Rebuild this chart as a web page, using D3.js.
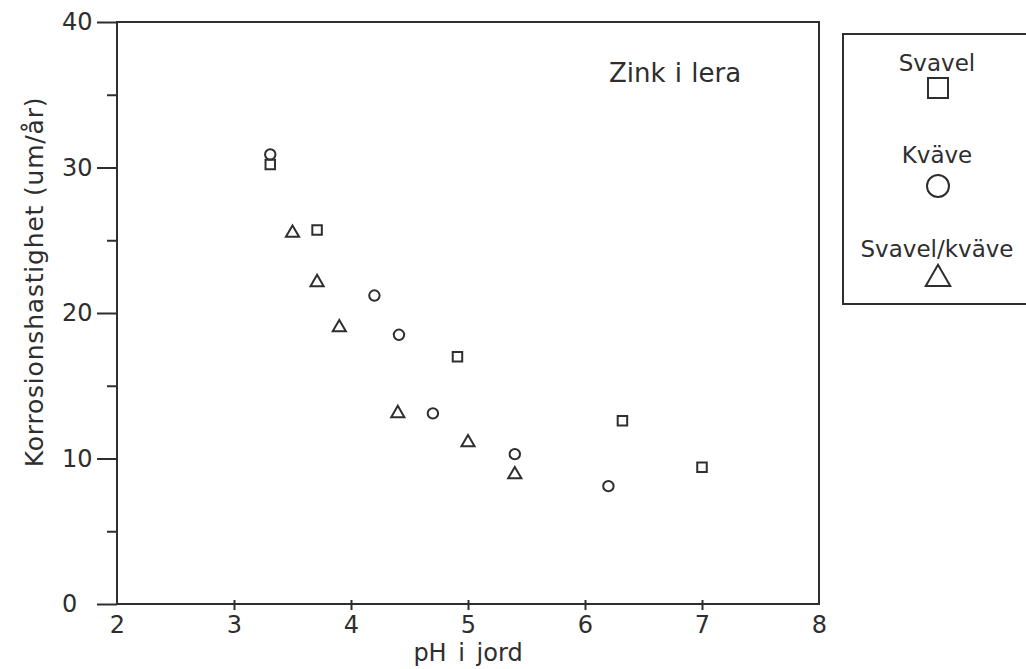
<!DOCTYPE html>
<html>
<head>
<meta charset="utf-8">
<script src="https://cdn.jsdelivr.net/npm/d3@7"></script>
<style>
  html, body { margin: 0; padding: 0; background: #ffffff; }
  svg { display: block; }
  text { font-family: "DejaVu Sans", sans-serif; fill: #2e2e2e; }
</style>
</head>
<body>
<svg id="chart" width="1026" height="669"></svg>
<script>
// Corrosion rate of zinc in clay versus soil pH, three treatments
const svavelPH   = [3.31, 3.71, 4.91, 6.32, 7.0];
const svavelRate = [30.2, 25.7, 17.0, 12.6, 9.4];

const kvavePH   = [3.31, 4.2, 4.41, 4.7, 5.4, 6.2];
const kvaveRate = [30.9, 21.2, 18.5, 13.1, 10.3, 8.1];

const blandPH   = [3.5, 3.71, 3.9, 4.4, 5.0, 5.4];
const blandRate = [25.5, 22.1, 19.0, 13.1, 11.1, 8.9];

const xTicks = [2, 3, 4, 5, 6, 7, 8];
const yTicks = [0, 10, 20, 30, 40];
const yMinorTicks = [5, 15, 25, 35];

const seriesNames = ["Svavel", "Kväve", "Svavel/kväve"];

const ink = "#2e2e2e";
const svg = d3.select("#chart");

const x = d3.scaleLinear().domain([2, 8]).range([117, 819]);
const y = d3.scaleLinear().domain([0, 40]).range([604, 22]);

// plot frame
svg.append("rect")
  .attr("x", x(2)).attr("y", y(40))
  .attr("width", x(8) - x(2)).attr("height", y(0) - y(40))
  .attr("fill", "none").attr("stroke", ink).attr("stroke-width", 2);

// y axis: long major ticks with labels (left-aligned in a column), short minor ticks
const yAxis = svg.append("g")
  .attr("transform", `translate(${x(2)},0)`)
  .call(d3.axisLeft(y).tickValues(yTicks).tickSize(20).tickPadding(9).tickFormat(d3.format("d")));
yAxis.select(".domain").remove();
yAxis.selectAll("line").attr("stroke", ink).attr("stroke-width", 2);
yAxis.selectAll("text")
  .attr("font-size", 24).style("fill", ink)
  .attr("text-anchor", "start").attr("x", 62 - x(2));

const yMinor = svg.append("g")
  .attr("transform", `translate(${x(2)},0)`)
  .call(d3.axisLeft(y).tickValues(yMinorTicks).tickSize(10).tickFormat(""));
yMinor.select(".domain").remove();
yMinor.selectAll("line").attr("stroke", ink).attr("stroke-width", 2);

// x axis: small ticks crossing the baseline
const xAxis = svg.append("g")
  .attr("transform", `translate(0,${y(0)})`)
  .call(d3.axisBottom(x).tickValues(xTicks).tickSize(6).tickPadding(6).tickFormat(d3.format("d")));
xAxis.select(".domain").remove();
xAxis.selectAll("line").attr("y1", -4).attr("stroke", ink).attr("stroke-width", 2);
xAxis.selectAll(".tick").filter(d => d === 2 || d === 8).select("line").remove();
xAxis.selectAll("text").attr("font-size", 24).style("fill", ink);

// axis titles
svg.append("text")
  .attr("x", x(5)).attr("y", 661)
  .attr("text-anchor", "middle").attr("font-size", 24)
  .attr("word-spacing", 4)
  .text("pH i jord");

svg.append("text")
  .attr("transform", `translate(43,${(y(0) + y(40)) / 2 - 31}) rotate(-90)`)
  .attr("text-anchor", "middle").attr("font-size", 25)
  .attr("letter-spacing", 0.8)
  .text("Korrosionshastighet (um/år)");

// panel title
svg.append("text")
  .attr("x", 675).attr("y", 82)
  .attr("text-anchor", "middle").attr("font-size", 26)
  .attr("word-spacing", 1)
  .text("Zink i lera");

// markers
const symSquare = d3.symbol().type(d3.symbolSquare).size(90);
const symCircle = d3.symbol().type(d3.symbolCircle).size(85);
const symTriangle = d3.symbol().type(d3.symbolTriangle).size(75);

function plot(phs, rates, sym) {
  svg.append("g").selectAll("path")
    .data(phs.map((p, i) => ({ p, r: rates[i] })))
    .join("path")
    .attr("d", sym)
    .attr("transform", d => `translate(${x(d.p)},${y(d.r)})`)
    .attr("fill", "none").attr("stroke", ink).attr("stroke-width", 2);
}
plot(svavelPH, svavelRate, symSquare);
plot(kvavePH, kvaveRate, symCircle);
plot(blandPH, blandRate, symTriangle);

// legend
const legend = svg.append("g");
legend.append("rect")
  .attr("x", 843).attr("y", 34).attr("width", 200).attr("height", 270)
  .attr("fill", "none").attr("stroke", ink).attr("stroke-width", 2);

const legendSyms = [
  d3.symbol().type(d3.symbolSquare).size(400),
  d3.symbol().type(d3.symbolCircle).size(380),
  d3.symbol().type(d3.symbolTriangle).size(260)
];
const legendTextY = [71, 163, 257];
const legendSymY = [88, 186, 279];

seriesNames.forEach((name, i) => {
  legend.append("text")
    .attr("x", 937).attr("y", legendTextY[i])
    .attr("text-anchor", "middle").attr("font-size", 23)
    .text(name);
  legend.append("path")
    .attr("d", legendSyms[i])
    .attr("transform", `translate(938,${legendSymY[i]})`)
    .attr("fill", "none").attr("stroke", ink).attr("stroke-width", 2);
});
</script>
</body>
</html>
